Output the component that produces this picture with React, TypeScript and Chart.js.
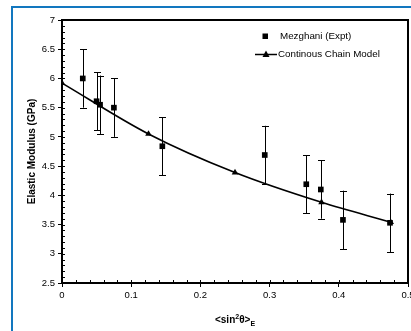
import { useEffect, useRef } from "react";
import { Chart, registerables } from "chart.js";

Chart.register(...registerables);

// ---- data ----
const expLabel = "Mezghani (Expt)";
const expX = [0.03, 0.05, 0.055, 0.075, 0.145, 0.293, 0.353, 0.374, 0.406, 0.474];
const expY = [6.0, 5.61, 5.55, 5.5, 4.84, 4.69, 4.19, 4.1, 3.58, 3.53];
const expErr = [0.5, 0.5, 0.5, 0.5, 0.5, 0.5, 0.5, 0.5, 0.5, 0.5];

const modelLabel = "Continous Chain Model";
const modelX = [0, 0.125, 0.25, 0.375, 0.475];
const modelY = [5.92, 5.05, 4.39, 3.88, 3.54];

const xTickLabels = ["0", "0.1", "0.2", "0.3", "0.4", "0.5"];
const yTickLabels = ["2.5", "3", "3.5", "4", "4.5", "5", "5.5", "6", "6.5", "7"];
const xMinorStep = 0.02;
const yMinorStep = 0.1;

const yTitle = "Elastic Modulus (GPa)";

const FONT = '"Liberation Sans", Arial, sans-serif';
const CANVAS_W = 440;
const CANVAS_H = 350;

function findLabel(list: string[], v: number) {
  const l = list.find((s) => Math.abs(parseFloat(s) - v) < 1e-6);
  return l ?? "";
}

const decorPlugin = {
  id: "decor",
  beforeDraw(chart: any) {
    const ctx = chart.ctx;
    ctx.save();
    ctx.fillStyle = "#ffffff";
    ctx.fillRect(0, 0, chart.width, chart.height);
    ctx.strokeStyle = "#1277bf";
    ctx.lineWidth = 2;
    ctx.strokeRect(12, 7, 420, 336);
    ctx.restore();
  },
  beforeDatasetsDraw(chart: any) {
    const ctx = chart.ctx;
    const xs = chart.scales.x;
    const ys = chart.scales.y;
    ctx.save();
    ctx.strokeStyle = "#000";
    ctx.lineWidth = 1;
    for (let i = 0; i < expX.length; i++) {
      const px = Math.round(xs.getPixelForValue(expX[i])) + 0.5;
      const top = ys.getPixelForValue(expY[i] + expErr[i]);
      const bot = ys.getPixelForValue(expY[i] - expErr[i]);
      ctx.beginPath();
      ctx.moveTo(px, top);
      ctx.lineTo(px, bot);
      ctx.moveTo(px - 3.5, Math.round(top) + 0.5);
      ctx.lineTo(px + 3.5, Math.round(top) + 0.5);
      ctx.moveTo(px - 3.5, Math.round(bot) + 0.5);
      ctx.lineTo(px + 3.5, Math.round(bot) + 0.5);
      ctx.stroke();
    }
    ctx.restore();
  },
  afterDraw(chart: any) {
    const ctx = chart.ctx;
    const area = chart.chartArea;
    const xs = chart.scales.x;
    const ys = chart.scales.y;
    ctx.save();
    // top and right frame of plot
    ctx.strokeStyle = "#000";
    ctx.lineWidth = 2;
    ctx.beginPath();
    ctx.moveTo(area.left, area.top);
    ctx.lineTo(area.right, area.top);
    ctx.lineTo(area.right, area.bottom);
    ctx.stroke();
    // minor ticks (inside)
    ctx.lineWidth = 1;
    ctx.beginPath();
    const nx = Math.round((xs.max - xs.min) / xMinorStep);
    for (let i = 1; i < nx; i++) {
      const px = Math.round(xs.getPixelForValue(xs.min + i * xMinorStep)) + 0.5;
      ctx.moveTo(px, area.bottom);
      ctx.lineTo(px, area.bottom - 3);
    }
    const ny = Math.round((ys.max - ys.min) / yMinorStep);
    for (let i = 1; i < ny; i++) {
      const py = Math.round(ys.getPixelForValue(ys.min + i * yMinorStep)) + 0.5;
      ctx.moveTo(area.left, py);
      ctx.lineTo(area.left + 3, py);
    }
    ctx.stroke();

    // legend
    const ds = chart.data.datasets;
    ctx.fillStyle = "#000";
    ctx.font = `9.8px ${FONT}`;
    ctx.textBaseline = "middle";
    ctx.textAlign = "left";
    // square entry
    ctx.fillRect(262.5, 33.5, 5.5, 5.5);
    ctx.fillText(ds[0].label, 280, 36);
    // line + triangle entry
    ctx.lineWidth = 1.5;
    ctx.beginPath();
    ctx.moveTo(255, 54.5);
    ctx.lineTo(277, 54.5);
    ctx.stroke();
    ctx.beginPath();
    ctx.moveTo(266, 50.5);
    ctx.lineTo(269.5, 57);
    ctx.lineTo(262.5, 57);
    ctx.closePath();
    ctx.fill();
    ctx.fillText(ds[1].label, 278, 54);

    // y title
    ctx.save();
    ctx.translate(32, (area.top + area.bottom) / 2);
    ctx.rotate(-Math.PI / 2);
    ctx.font = `bold 10px ${FONT}`;
    ctx.textAlign = "center";
    ctx.textBaseline = "middle";
    ctx.fillText(yTitle, 0, 0);
    ctx.restore();

    // x title  <sin²θ>E
    const parts = [
      { t: "<sin", f: `bold 10px ${FONT}`, dy: 0 },
      { t: "2", f: `bold 7px ${FONT}`, dy: -4 },
      { t: "θ>", f: `bold 10px ${FONT}`, dy: 0 },
      { t: "E", f: `bold 7px ${FONT}`, dy: 2.5 },
    ];
    let total = 0;
    for (const p of parts) {
      ctx.font = p.f;
      total += ctx.measureText(p.t).width;
    }
    let cx = (area.left + area.right) / 2 - total / 2;
    const baseY = 323;
    ctx.textBaseline = "alphabetic";
    for (const p of parts) {
      ctx.font = p.f;
      ctx.fillText(p.t, cx, baseY + p.dy);
      cx += ctx.measureText(p.t).width;
    }
    ctx.restore();
  },
};

export default function App() {
  const ref = useRef<HTMLCanvasElement | null>(null);
  useEffect(() => {
    if (!ref.current) return;
    const chart = new Chart(ref.current, {
      type: "scatter",
      data: {
        datasets: [
          {
            label: expLabel,
            data: expX.map((x, i) => ({ x, y: expY[i] })),
            showLine: false,
            pointStyle: "rect",
            pointRadius: 4,
            pointBackgroundColor: "#000",
            pointBorderColor: "#000",
            pointBorderWidth: 0,
            order: 1,
          },
          {
            label: modelLabel,
            data: modelX.map((x, i) => ({ x, y: modelY[i] })),
            showLine: true,
            borderColor: "#000",
            borderWidth: 1.6,
            cubicInterpolationMode: "monotone",
            pointStyle: "triangle",
            pointRadius: 3.8,
            pointBackgroundColor: "#000",
            pointBorderColor: "#000",
            pointBorderWidth: 0,
            order: 2,
          },
        ],
      },
      options: {
        animation: false,
        responsive: false,
        devicePixelRatio: 1,
        layout: { padding: { left: 0, top: 20, right: CANVAS_W - 408, bottom: CANVAS_H - 283 - 20 } },
        plugins: { legend: { display: false }, tooltip: { enabled: false } },
        scales: {
          x: {
            type: "linear",
            min: 0,
            max: 0.5,
            afterFit: (s: any) => { s.height = 20; },
            ticks: {
              stepSize: 0.1,
              padding: 3,
              color: "#000",
              font: { family: FONT, size: 9.5 },
              callback: (v: any) => findLabel(xTickLabels, Number(v)),
              maxRotation: 0,
            },
            grid: { display: true, drawOnChartArea: false, drawTicks: true, tickLength: 4, color: "#000", lineWidth: 1 },
            border: { display: true, color: "#000", width: 2 },
          },
          y: {
            type: "linear",
            min: 2.5,
            max: 7,
            afterFit: (s: any) => { s.width = 62; },
            ticks: {
              stepSize: 0.5,
              padding: 3,
              color: "#000",
              font: { family: FONT, size: 9.5 },
              callback: (v: any) => findLabel(yTickLabels, Number(v)),
            },
            grid: { display: true, drawOnChartArea: false, drawTicks: true, tickLength: 4, color: "#000", lineWidth: 1 },
            border: { display: true, color: "#000", width: 2 },
          },
        },
      },
      plugins: [decorPlugin],
    } as any);
    return () => chart.destroy();
  }, []);
  return (
    <div style={{ position: "fixed", left: 0, top: 0, width: 411, height: 331, overflow: "hidden", background: "#fff" }}>
      <canvas ref={ref} width={CANVAS_W} height={CANVAS_H} style={{ display: "block" }} />
    </div>
  );
}
